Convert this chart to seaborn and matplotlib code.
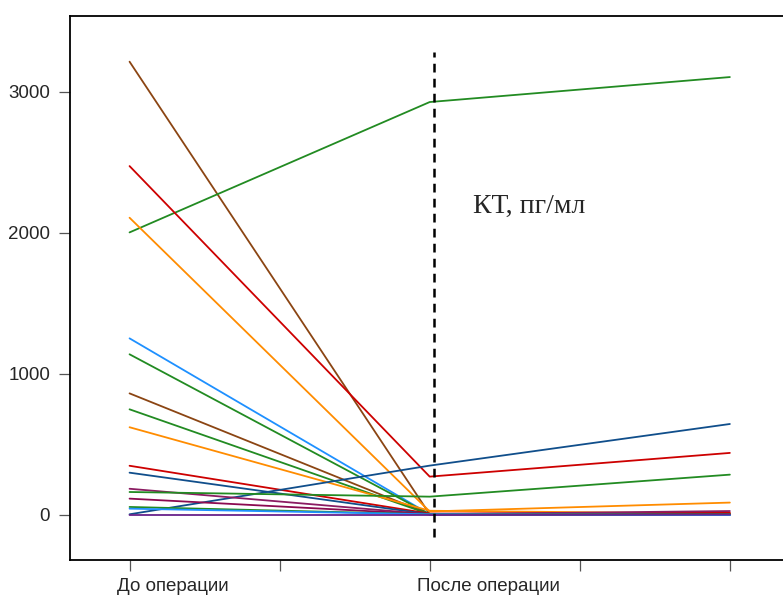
import numpy as np
import pandas as pd
import seaborn as sns
import matplotlib
matplotlib.use('Agg')
import matplotlib.pyplot as plt
import matplotlib.transforms as mtransforms


# KT, pg/ml per patient: before surgery, after surgery, follow-up
PATIENTS = ['p{:02d}'.format(i) for i in range(1, 19)]
BEFORE = [3213, 2003, 2473, 2107, 1252, 1139, 862, 749, 622,
          349, 300, 5, 186, 163, 116, 57, 45, 0]
AFTER = [5, 2927, 272, 25, 5, 5, 5, 5, 30,
         10, 5, 350, 5, 130, 5, 5, 5, 0]
FOLLOW = [5, 3104, 440, 88, 0, 5, 5, 5, 10,
          16, 0, 645, 28, 286, 7, 5, 0, 3]
COLORS = ['#8B4513', '#228B22', '#CD0000', '#FF8C00', '#1E90FF',
          '#228B22', '#8B4513', '#228B22', '#FF8C00', '#CD0000',
          '#104E8B', '#104E8B', '#8B1C62', '#228B22', '#8B0A50',
          '#228B22', '#1E90FF', '#68228B']

TICK_POS = [1, 1.5, 2, 2.5, 3]
TICK_LABELS = ['До операции', '', 'После операции', '', '']
Y_TICKS = [0, 1000, 2000, 3000]

df = pd.DataFrame({
    'patient': np.repeat(PATIENTS, 3),
    'visit': np.tile([1, 2, 3], len(PATIENTS)),
    'kt': np.ravel(np.column_stack([BEFORE, AFTER, FOLLOW])),
})

sns.set_style('white')
plt.rcParams['font.family'] = ['Liberation Sans', 'DejaVu Sans']

fig = plt.figure(figsize=(7.83, 5.99), dpi=100)
ax = fig.add_axes([0.0888, 0.0651, 0.920, 0.908])

sns.lineplot(data=df, x='visit', y='kt', hue='patient',
             palette=dict(zip(PATIENTS, COLORS)), legend=False,
             linewidth=1.3, ax=ax, sort=False)

ax.plot([2.013, 2.013], [-156, 3281], color='black', lw=1.8,
        ls=(0, (3.5, 2.5)))
ax.text(2.143, 2140, 'КТ, пг/мл', family='Liberation Serif', fontsize=20,
        va='baseline', ha='left')

ax.set_xlim(0.8, 3.2)
ax.set_ylim(-319, 3536)
ax.set_xticks(TICK_POS)
ax.set_xticklabels(TICK_LABELS)
ax.set_yticks(Y_TICKS)
ax.set_xlabel('')
ax.set_ylabel('')
ax.tick_params(axis='both', direction='out', length=8, width=0.9,
               color='#555555', labelsize=13.5)
ax.tick_params(axis='y', pad=6)
ax.tick_params(axis='x', pad=5)
ax.tick_params(left=True, bottom=True)
shift = mtransforms.ScaledTranslation(-0.13, 0, fig.dpi_scale_trans)
for lab in ax.get_xticklabels():
    lab.set_horizontalalignment('left')
    lab.set_transform(lab.get_transform() + shift)
for sp in ax.spines.values():
    sp.set_visible(True)
    sp.set_color('black')
    sp.set_linewidth(1.3)

fig.savefig('out.png', dpi=100)
